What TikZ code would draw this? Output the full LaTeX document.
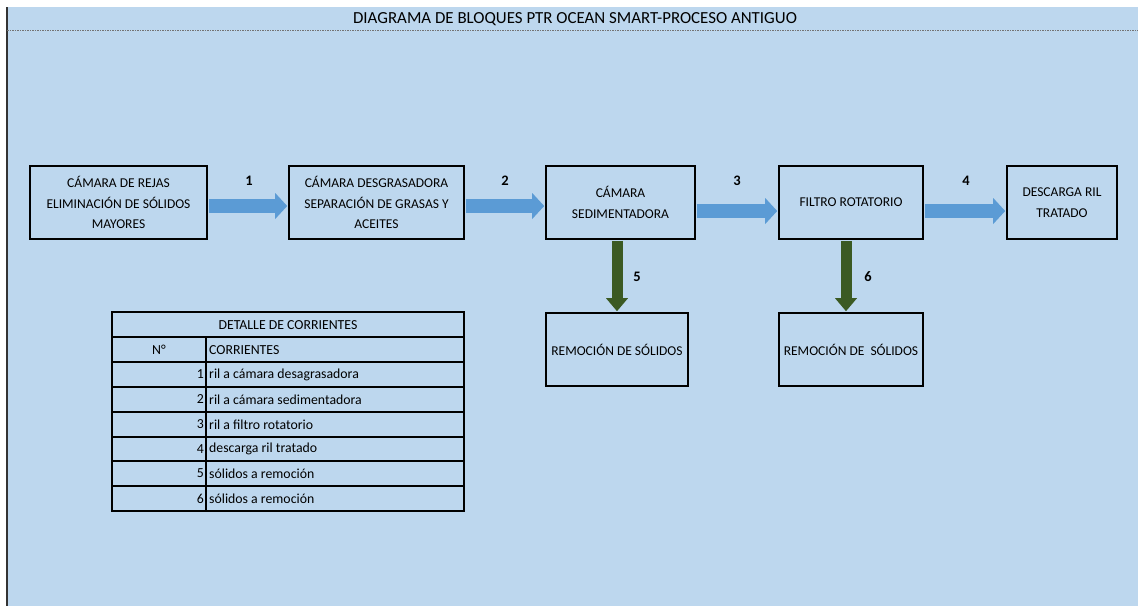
\documentclass[tikz,border=0pt]{standalone}
\usepackage{fontspec}
\setmainfont{Carlito}
\usetikzlibrary{arrows.meta}
\definecolor{bgblue}{HTML}{BDD7EE}
\definecolor{arrblue}{HTML}{5B9BD5}
\definecolor{arrgreen}{HTML}{3B5A23}
\begin{document}
\begin{tikzpicture}[x=1pt,y=-1pt,
  blk/.style={draw=black, line width=1.8pt, fill=bgblue, align=center, inner sep=0pt,
    minimum height=73pt, font=\fontsize{13.5}{20.5}\selectfont},
  barrow/.style={draw=arrblue, line width=14pt, shorten <=0.9pt, shorten >=0.9pt,
    -{Triangle[width=26pt,length=12pt,line width=0pt]}},
  garrow/.style={draw=arrgreen, line width=11pt, shorten <=0.9pt, shorten >=0.9pt,
    -{Triangle[width=22pt,length=13pt,line width=0pt]}},
  num/.style={font=\bfseries\fontsize{14.5}{16}\selectfont, inner sep=0pt},
  cell/.style={font=\fontsize{13.8}{15}\selectfont, inner sep=0pt},
  tline/.style={line width=1.2pt, black}
]
\useasboundingbox (0,0) rectangle (1138,606);
\fill[bgblue] (7,7) rectangle (1138,606);
\draw[line width=1.5pt, black!80] (7,7) -- (7,606);
\draw[black!55, line width=0.8pt, dash pattern=on 2pt off 1pt on 1pt off 1pt] (7,30) -- (1138,30);
\node[font=\fontsize{16.9}{18}\selectfont, inner sep=0pt] (title) at (575,19) {DIAGRAMA DE BLOQUES PTR OCEAN SMART-PROCESO ANTIGUO};

% process boxes
\node[blk, minimum width=177pt] (b1) at (118.5,202.5) {CÁMARA DE REJAS\\ELIMINACIÓN DE SÓLIDOS\\MAYORES};
\node[blk, minimum width=175pt] (b2) at (376.5,202.5) {CÁMARA DESGRASADORA\\SEPARACIÓN DE GRASAS Y\\ACEITES};
\node[blk, minimum width=149pt] (b3) at (620.5,202.5) {CÁMARA\\SEDIMENTADORA};
\node[blk, minimum width=144pt] (b4) at (851,202.5) {FILTRO ROTATORIO};
\node[blk, minimum width=110pt] (b5) at (1062,202.5) {DESCARGA RIL\\TRATADO};
\node[blk, minimum width=142pt] (r1) at (617,349.5) {REMOCIÓN DE SÓLIDOS};
\node[blk, minimum width=144pt] (r2) at (851,349.5) {REMOCIÓN DE\ \ SÓLIDOS};

% blue arrows
\draw[barrow] ([yshift=-3.5pt]b1.east) -- ([yshift=-3.5pt]b2.west);
\draw[barrow] ([yshift=-3.5pt]b2.east) -- ([yshift=-3.5pt]b3.west);
\draw[barrow] ([yshift=-8.5pt]b3.east) -- ([yshift=-8.5pt]b4.west);
\draw[barrow] ([yshift=-8.5pt]b4.east) -- ([yshift=-8.5pt]b5.west);
% green arrows
\draw[garrow] (r1.north |- b3.south) -- (r1.north);
\draw[garrow] ([xshift=-5pt]b4.south) -- ([xshift=-5pt]r2.north);

% stream numbers
\node[num] (l1) at (249,181) {1};
\node[num] (l2) at (505,181) {2};
\node[num] (l3) at (737,181) {3};
\node[num] (l4) at (966,181) {4};
\node[num] (l5) at (637,277) {5};
\node[num] (l6) at (868,277) {6};

% table
\node[draw=black, line width=2.2pt, minimum width=352pt, minimum height=199pt, inner sep=0pt] (tbl) at (288,411.5) {};
\foreach \y in {337,362,387,412,437,461,486} \draw[tline] (112,\y) -- (464,\y);
\draw[tline] (206,337) -- (206,511);
\node[cell] (th) at (288,325) {DETALLE DE CORRIENTES};
\node[cell] (hn) at (159,350) {N°};
\node[cell, anchor=west] (hc) at (209,350) {CORRIENTES};
\foreach \i/\y/\t in {1/374.5/ril a cámara desagrasadora, 2/399.5/ril a cámara sedimentadora,
  3/424.5/ril a filtro rotatorio, 4/449/descarga ril tratado,
  5/473.5/sólidos a remoción, 6/498.5/sólidos a remoción}{
  \node[cell, anchor=east] (n\i) at (204,\y) {\i};
  \node[cell, anchor=west] (t\i) at (209,\y) {\t};
}
\end{tikzpicture}
\end{document}
